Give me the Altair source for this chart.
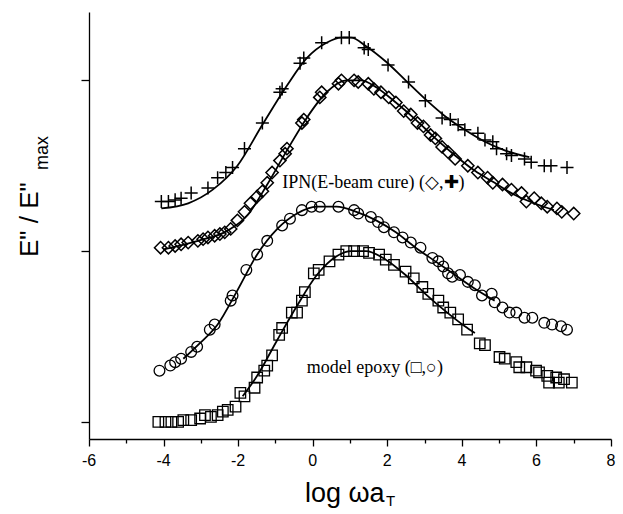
import altair as alt
import pandas as pd

# ---------------- data ----------------
plus_x = [-4.06, -3.87, -3.69, -3.53, -3.26, -2.81, -2.55, -2.33, -2.15, -1.83,
          -1.35, -0.88, -0.82, -0.34, -0.24, 0.24, 0.77, 0.98, 1.38, 1.49,
          2.02, 2.57, 3.02, 3.47, 3.69, 3.90, 4.08, 4.43, 4.62, 4.83,
          4.93, 5.20, 5.33, 5.68, 5.86, 6.21, 6.39, 6.82]
plus_y = [1.29, 1.29, 1.30, 1.31, 1.34, 1.37, 1.43, 1.46, 1.49, 1.60,
          1.75, 1.93, 1.95, 2.10, 2.13, 2.22, 2.25, 2.25, 2.19, 2.18,
          2.09, 1.99, 1.88, 1.78, 1.77, 1.74, 1.71, 1.69, 1.65, 1.64,
          1.60, 1.57, 1.56, 1.54, 1.52, 1.50, 1.50, 1.49]

dia_x = [-4.08, -3.87, -3.69, -3.53, -3.34, -3.08, -2.94, -2.81, -2.63, -2.49,
         -2.36, -2.20, -2.02, -1.83, -1.67, -1.49, -1.35, -1.22, -1.09, -0.88,
         -0.74, -0.69, -0.29, -0.24, 0.19, 0.24, 0.69, 0.77, 1.11, 1.22,
         1.49, 1.64, 1.83, 2.04, 2.23, 2.44, 2.63, 2.81, 2.97, 3.16,
         3.29, 3.47, 3.63, 3.82, 4.16, 4.43, 4.69, 4.83, 5.09, 5.33,
         5.60, 5.73, 5.94, 6.13, 6.29, 6.55, 6.68, 7.00]
dia_y = [1.02, 1.02, 1.03, 1.04, 1.05, 1.06, 1.07, 1.08, 1.09, 1.10,
         1.11, 1.13, 1.18, 1.23, 1.28, 1.32, 1.35, 1.40, 1.46, 1.53,
         1.57, 1.60, 1.75, 1.77, 1.90, 1.93, 1.98, 2.00, 2.00, 1.99,
         1.98, 1.95, 1.93, 1.90, 1.87, 1.82, 1.80, 1.75, 1.73, 1.68,
         1.66, 1.61, 1.58, 1.54, 1.50, 1.46, 1.43, 1.40, 1.39, 1.36,
         1.34, 1.29, 1.31, 1.28, 1.26, 1.25, 1.23, 1.22]

circ_x = [-4.11, -3.82, -3.69, -3.53, -3.26, -3.10, -2.76, -2.63, -2.20, -2.15,
          -1.78, -1.49, -1.22, -0.82, -0.61, -0.29, -0.03, 0.19, 0.69, 1.11,
          1.22, 1.56, 1.75, 1.91, 2.18, 2.41, 2.63, 2.89, 3.21, 3.37,
          3.50, 3.63, 3.74, 3.95, 4.16, 4.35, 4.54, 4.80, 4.88, 5.09,
          5.28, 5.46, 5.68, 5.89, 6.21, 6.42, 6.66, 6.82]
circ_y = [0.30, 0.33, 0.35, 0.37, 0.41, 0.44, 0.54, 0.57, 0.71, 0.74,
          0.89, 0.98, 1.06, 1.15, 1.19, 1.24, 1.26, 1.26, 1.26, 1.24,
          1.22, 1.20, 1.17, 1.14, 1.11, 1.08, 1.05, 1.02, 0.96, 0.94,
          0.91, 0.87, 0.85, 0.86, 0.82, 0.80, 0.74, 0.75, 0.70, 0.67,
          0.64, 0.64, 0.61, 0.61, 0.58, 0.57, 0.56, 0.54]

sq_x = [-4.14, -3.95, -3.79, -3.61, -3.47, -3.26, -3.02, -2.89, -2.73, -2.55,
        -2.41, -2.28, -2.07, -1.94, -1.83, -1.56, -1.49, -1.30, -1.22, -1.09,
        -0.90, -0.82, -0.56, -0.42, -0.29, -0.21, 0.03, 0.16, 0.45, 0.69,
        0.90, 1.11, 1.35, 1.51, 1.78, 1.96, 2.18, 2.49, 2.71, 2.94,
        3.10, 3.37, 3.50, 3.69, 3.90, 4.14, 4.48, 4.62, 5.01, 5.15,
        5.46, 5.54, 5.73, 5.99, 6.07, 6.29, 6.34, 6.53, 6.60, 6.74, 6.95]
sq_y = [0.00, 0.00, 0.00, 0.00, 0.01, 0.01, 0.02, 0.04, 0.03, 0.04,
        0.06, 0.07, 0.09, 0.17, 0.15, 0.20, 0.26, 0.30, 0.33, 0.39,
        0.51, 0.55, 0.64, 0.64, 0.71, 0.76, 0.87, 0.89, 0.94, 0.98,
        1.00, 1.00, 1.00, 0.99, 0.98, 0.95, 0.92, 0.88, 0.84, 0.79,
        0.75, 0.71, 0.67, 0.64, 0.60, 0.54, 0.46, 0.45, 0.38, 0.37,
        0.35, 0.32, 0.32, 0.30, 0.29, 0.27, 0.23, 0.26, 0.23, 0.25, 0.23]

# fitted curves
plus_fit_x = [-4.06, -3.34, -2.68, -2.02, -1.35, -0.69, -0.16, 0.37, 0.77, 1.03,
              1.43, 1.96, 2.49, 3.02, 3.55, 4.08, 4.62, 5.15, 5.81]
plus_fit_y = [1.25, 1.28, 1.36, 1.50, 1.74, 1.97, 2.13, 2.22, 2.25, 2.25,
              2.20, 2.11, 2.00, 1.89, 1.79, 1.71, 1.64, 1.59, 1.55]
dia_fit_x = [-4.00, -3.08, -2.28, -1.75, -1.22, -0.69, -0.16, 0.37, 0.90, 1.30,
             1.70, 2.23, 2.76, 3.29, 3.82, 4.35, 4.88, 5.41, 6.07, 6.47]
dia_fit_y = [1.01, 1.06, 1.12, 1.21, 1.39, 1.59, 1.78, 1.93, 2.00, 2.00,
             1.96, 1.87, 1.77, 1.66, 1.56, 1.47, 1.40, 1.33, 1.27, 1.24]
circ_fit_x = [-3.47, -3.08, -2.55, -2.02, -1.49, -0.95, -0.42, 0.11, 0.64, 1.17,
              1.70, 2.23, 2.76, 3.29, 3.82, 4.35, 4.88]
circ_fit_y = [0.37, 0.45, 0.57, 0.77, 0.98, 1.13, 1.22, 1.26, 1.26, 1.23,
              1.18, 1.11, 1.02, 0.94, 0.86, 0.78, 0.71]
sq_fit_x = [-1.88, -1.49, -0.95, -0.42, 0.11, 0.64, 1.03, 1.43, 1.96, 2.49,
            3.02, 3.55, 4.08, 4.35]
sq_fit_y = [0.15, 0.27, 0.48, 0.68, 0.86, 0.97, 1.00, 1.00, 0.95, 0.86,
            0.75, 0.65, 0.56, 0.52]

x_ticks = [-6, -5, -4, -3, -2, -1, 0, 1, 2, 3, 4, 5, 6, 7, 8]
x_label_vals = [-6, -4, -2, 0, 2, 4, 6, 8]
x_label_text = ["-6", "-4", "-2", "0", "2", "4", "6", "8"]
y_ticks = [0, 1, 2]

ann_text = ["IPN(E-beam cure) (\u25C7,\u271A)", "model epoxy (\u25A1,\u25CB)"]
ann_x = [-0.82, -0.16]
ann_y = [1.40, 0.316]

# ---------------- chart ----------------
W, H = 522, 427
xs = alt.Scale(domain=[-6, 8], nice=False, zero=False)
ys = alt.Scale(domain=[-0.1, 2.4], nice=False, zero=False)

x_axis = alt.Axis(
    values=x_ticks, tickCount=40, title=None, grid=False, labels=False,
    tickSize={"condition": {"test": "datum.value % 2 !== 0", "value": 4}, "value": 7},
    tickColor="black", tickWidth=1.3, domainColor="black", domainWidth=1.3,
)
y_axis = alt.Axis(
    values=y_ticks, title=None, grid=False, labels=False,
    tickSize=8, tickColor="black", tickWidth=1.3,
    domainColor="black", domainWidth=1.3,
)


def pts(xv, yv):
    return pd.DataFrame({"x": xv, "y": yv})


def enc(ch):
    return ch.encode(
        x=alt.X("x:Q", scale=xs, axis=x_axis),
        y=alt.Y("y:Q", scale=ys, axis=y_axis),
    )


lines = []
for fx, fy in [(plus_fit_x, plus_fit_y), (dia_fit_x, dia_fit_y),
               (circ_fit_x, circ_fit_y), (sq_fit_x, sq_fit_y)]:
    lines.append(enc(alt.Chart(pts(fx, fy)).mark_line(
        color="black", strokeWidth=1.8, interpolate="monotone")))

plus_layer = enc(alt.Chart(pts(plus_x, plus_y)).mark_point(
    shape="M-1,0L1,0M0,-1L0,1", size=170, filled=False,
    stroke="black", strokeWidth=1.5, opacity=1))
dia_layer = enc(alt.Chart(pts(dia_x, dia_y)).mark_point(
    shape="diamond", size=150, filled=False,
    stroke="black", strokeWidth=1.5, opacity=1))
circ_layer = enc(alt.Chart(pts(circ_x, circ_y)).mark_point(
    shape="circle", size=115, filled=False,
    stroke="black", strokeWidth=1.3, opacity=1))
sq_layer = enc(alt.Chart(pts(sq_x, sq_y)).mark_point(
    shape="square", size=110, filled=False,
    stroke="black", strokeWidth=1.3, opacity=1))

ann = enc(alt.Chart(pd.DataFrame({"x": ann_x, "y": ann_y, "t": ann_text})).mark_text(
    font="Liberation Serif", fontSize=18, align="left", baseline="middle", color="black"
)).encode(text="t:N")

# x tick labels (drawn through the x scale)
xlab = alt.Chart(pd.DataFrame({"x": x_label_vals, "t": x_label_text})).mark_text(
    font="Liberation Sans", fontSize=16, align="center", baseline="middle", color="black"
).encode(x=alt.X("x:Q", scale=xs, axis=x_axis), y=alt.value(H + 22), text="t:N")

titles = pd.DataFrame({
    "t": ["log \u03C9a", "T", "E\" / E\"", "max"],
    "px": [216, 297, -51, -41],
    "py": [490, 494, 245, 158],
    "fs": [27, 15, 26, 18],
    "ang": [0, 0, 270, 270],
})
title_layers = []
for _, r in titles.iterrows():
    title_layers.append(
        alt.Chart(pd.DataFrame({"t": [r["t"]]})).mark_text(
            font="Liberation Sans", fontSize=int(r["fs"]), align="left",
            baseline="alphabetic", angle=int(r["ang"]), color="black"
        ).encode(x=alt.value(int(r["px"])), y=alt.value(int(r["py"])), text="t:N")
    )

chart = alt.layer(
    plus_layer, *lines, dia_layer, circ_layer, sq_layer, ann, xlab, *title_layers
).properties(
    width=W, height=H,
    autosize=alt.AutoSizeParams(type="none"),
    padding={"left": 89, "top": 12, "right": 12, "bottom": 70},
    background="white",
).configure_view(stroke=None)

chart.save("out.html", embed_options={"renderer": "svg", "actions": False})
